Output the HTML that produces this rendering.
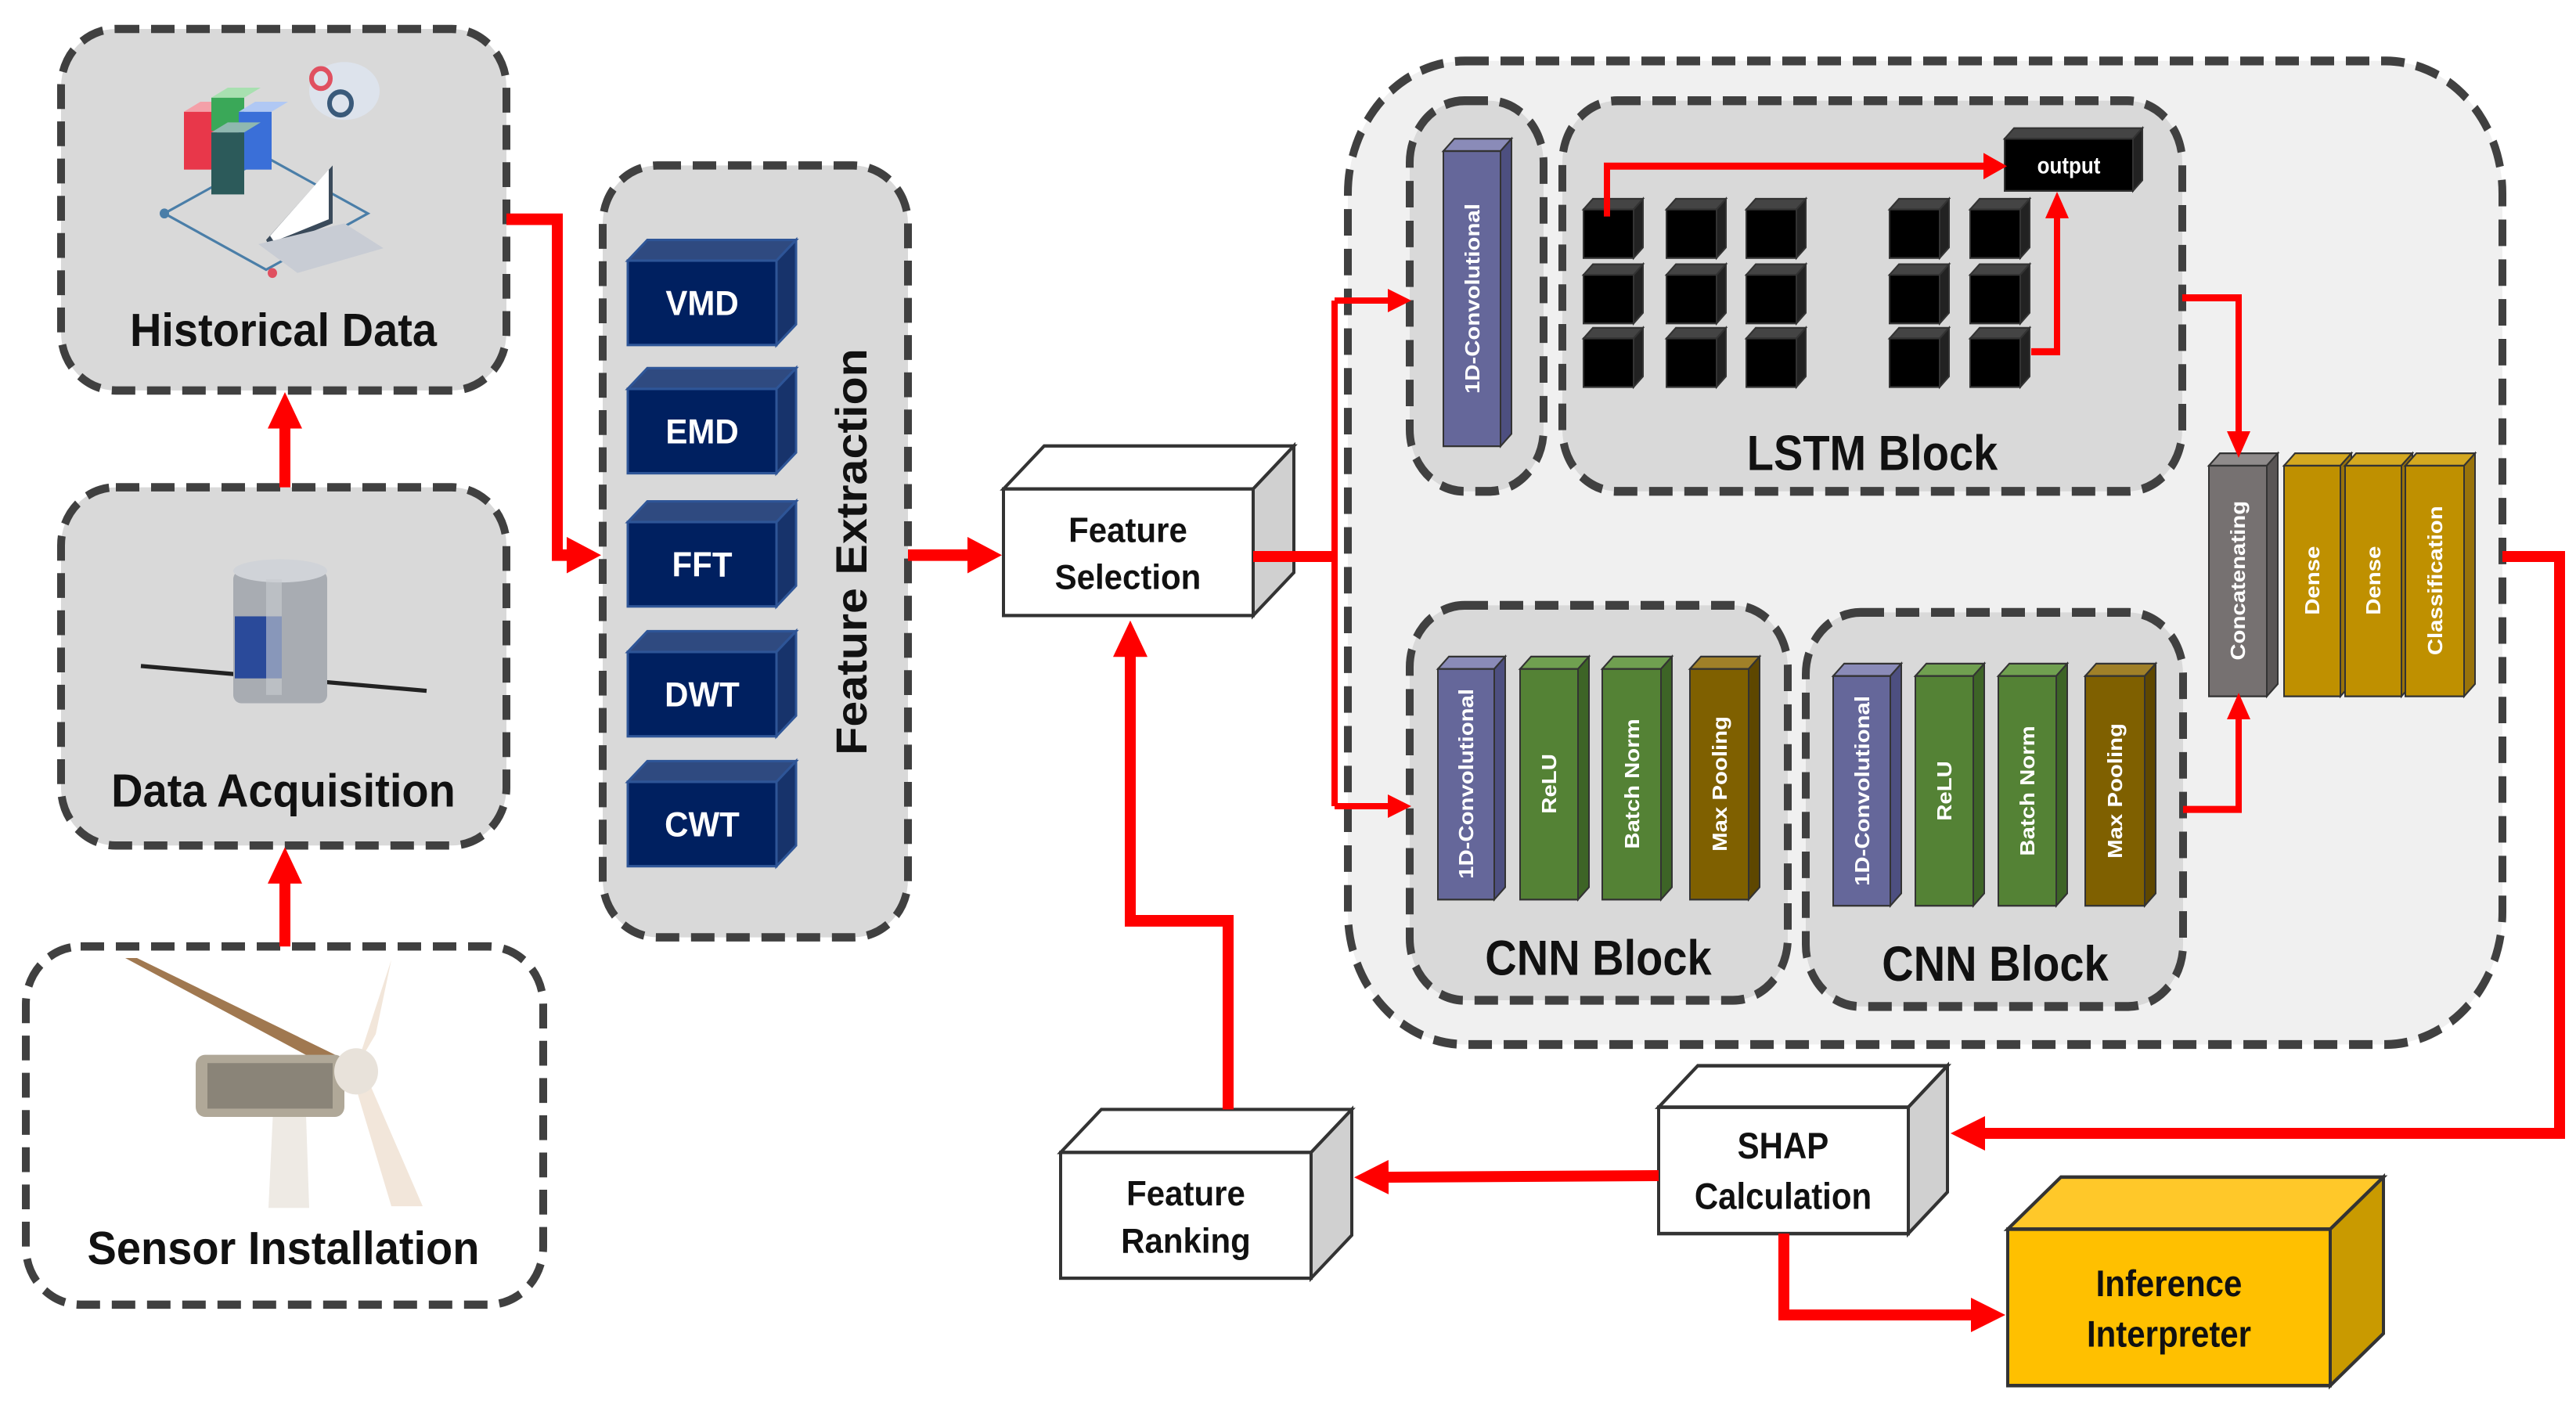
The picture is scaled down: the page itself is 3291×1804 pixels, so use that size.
<!DOCTYPE html>
<html><head><meta charset="utf-8"><style>
html,body{margin:0;padding:0;background:#fff;}
svg{display:block;}
text{font-family:"Liberation Sans",sans-serif;font-weight:bold;}
</style></head><body>
<svg width="3291" height="1804" viewBox="0 0 3291 1804" xmlns="http://www.w3.org/2000/svg">
<defs>
<marker id="a" markerWidth="44" markerHeight="44" refX="2" refY="22" orient="auto" markerUnits="userSpaceOnUse"><path d="M0,0 L44,22 L0,44z" fill="#ff0000"/></marker>
<marker id="s" markerWidth="30" markerHeight="30" refX="2" refY="15" orient="auto" markerUnits="userSpaceOnUse"><path d="M0,0 L30,15 L0,30z" fill="#ff0000"/></marker>
</defs>

<!-- LEFT GROUP -->
<g transform="scale(1,1.057)">
<g fill="none" stroke="#404040" stroke-width="10" stroke-dasharray="30 15">
<rect x="78" y="35" width="569" height="437" rx="70" fill="#d9d9d9"/>
<rect x="78" y="589" width="569" height="433" rx="70" fill="#d9d9d9"/>
<rect x="33" y="1144" width="661" height="433" rx="70" fill="#ffffff"/>
<rect x="770" y="200" width="390" height="933" rx="70" fill="#d9d9d9"/>
</g>
<g>
<path d="M210,258 L340,190 L470,258 L340,326z" fill="none" stroke="#4a7ea8" stroke-width="3"/>
<circle cx="210" cy="258" r="6" fill="#4a7ea8"/><circle cx="348" cy="330" r="6" fill="#e05060"/>
<rect x="235" y="135" width="42" height="70" fill="#e8374a"/><path d="M235,135 L256,123 L298,123 L277,135z" fill="#f4a0a8"/>
<rect x="270" y="118" width="42" height="40" fill="#3aa858"/><path d="M270,118 L291,106 L333,106 L312,118z" fill="#a8e0b0"/>
<rect x="305" y="135" width="42" height="70" fill="#3a6fd8"/><path d="M305,135 L326,123 L368,123 L347,135z" fill="#b0c8f4"/>
<rect x="270" y="160" width="42" height="75" fill="#2c5a5a"/><path d="M270,160 L291,148 L333,148 L312,160z" fill="#8fb8b0"/>
<path d="M340,290 L425,200 L425,270 L345,300z" fill="#3a4a5a"/>
<path d="M345,285 L420,205 L420,265 L350,292z" fill="#fff"/>
<path d="M330,295 L440,270 L490,300 L380,330z" fill="#c8ccd4"/>
<ellipse cx="440" cy="110" rx="45" ry="35" fill="#dde3ec"/>
<circle cx="410" cy="95" r="12" fill="none" stroke="#e05060" stroke-width="6"/>
<circle cx="435" cy="125" r="14" fill="none" stroke="#3a5a7a" stroke-width="6"/>
</g>
<text x="362" y="418" font-size="56" text-anchor="middle" fill="#111">Historical Data</text>
<g>
<path d="M180,805 L545,835" stroke="#222" stroke-width="5"/>
<rect x="298" y="690" width="120" height="160" rx="10" fill="#a8acb2"/>
<ellipse cx="358" cy="690" rx="60" ry="14" fill="#d0d3d8"/>
<rect x="300" y="745" width="60" height="75" fill="#2a4a9a"/>
<rect x="340" y="700" width="20" height="140" fill="#c8cbd0" opacity="0.6"/>
</g>
<text x="362" y="975" font-size="56" text-anchor="middle" fill="#111">Data Acquisition</text>
<g>
<path d="M350,1320 L390,1320 L395,1460 L343,1460z" fill="#eeeae4"/>
<path d="M160,1158 L175,1158 L450,1285 L440,1300z" fill="#a07850"/>
<path d="M455,1290 L500,1160 L480,1250z" fill="#f2e6da"/>
<path d="M450,1300 L470,1305 L540,1458 L500,1458z" fill="#f2e6da"/>
<rect x="250" y="1275" width="190" height="75" rx="12" fill="#b0a898"/>
<rect x="265" y="1285" width="160" height="55" fill="#8a8478"/>
<circle cx="455" cy="1295" r="28" fill="#e8e2da"/>
</g>
<text x="362" y="1528" font-size="56" text-anchor="middle" fill="#111">Sensor Installation</text>

<g stroke="#2e5597" stroke-width="3">
<g><rect x="802" y="315" width="190" height="102" fill="#002060"/><path d="M802,315 L827,290 L1017,290 L992,315z" fill="#2f4a80"/><path d="M992,315 L1017,290 L1017,392 L992,417z" fill="#17336b"/></g>
<g><rect x="802" y="470" width="190" height="102" fill="#002060"/><path d="M802,470 L827,445 L1017,445 L992,470z" fill="#2f4a80"/><path d="M992,470 L1017,445 L1017,547 L992,572z" fill="#17336b"/></g>
<g><rect x="802" y="631" width="190" height="102" fill="#002060"/><path d="M802,631 L827,606 L1017,606 L992,631z" fill="#2f4a80"/><path d="M992,631 L1017,606 L1017,708 L992,733z" fill="#17336b"/></g>
<g><rect x="802" y="788" width="190" height="102" fill="#002060"/><path d="M802,788 L827,763 L1017,763 L992,788z" fill="#2f4a80"/><path d="M992,788 L1017,763 L1017,865 L992,890z" fill="#17336b"/></g>
<g><rect x="802" y="945" width="190" height="102" fill="#002060"/><path d="M802,945 L827,920 L1017,920 L992,945z" fill="#2f4a80"/><path d="M992,945 L1017,920 L1017,1022 L992,1047z" fill="#17336b"/></g>
</g>
<g font-size="42" fill="#fff" text-anchor="middle">
<text x="897" y="381">VMD</text><text x="897" y="536">EMD</text><text x="897" y="697">FFT</text><text x="897" y="854">DWT</text><text x="897" y="1011">CWT</text>
</g>
<text transform="translate(1107,667) rotate(-90)" font-size="56" text-anchor="middle" fill="#111">Feature Extraction</text>

<g stroke="#333" stroke-width="4">
<path d="M1282,591 L1334,539 L1653,539 L1601,591z" fill="#fff"/><path d="M1601,591 L1653,539 L1653,692 L1601,744z" fill="#d0d0d0"/><rect x="1282" y="591" width="319" height="153" fill="#fff"/>
<path d="M1355,1393 L1407,1341 L1727,1341 L1675,1393z" fill="#fff"/><path d="M1675,1393 L1727,1341 L1727,1493 L1675,1545z" fill="#d0d0d0"/><rect x="1355" y="1393" width="320" height="152" fill="#fff"/>
</g>
<g font-size="42" fill="#111" text-anchor="middle">
<text x="1441" y="655">Feature</text><text x="1441" y="712">Selection</text>
<text x="1515" y="1457">Feature</text><text x="1515" y="1514">Ranking</text>
</g>
<g fill="none" stroke="#ff0000" stroke-width="14">
<path d="M364,589 L364,516" marker-end="url(#a)"/>
<path d="M364,1144 L364,1066" marker-end="url(#a)"/>
<path d="M647,265 L712,265 L712,671 L726,671" marker-end="url(#a)"/>
<path d="M1160,671 L1238,671" marker-end="url(#a)"/>
<path d="M1569,1341 L1569,1113 L1444,1113 L1444,792" marker-end="url(#a)"/>
</g>
</g>

<!-- RIGHT GROUP -->
<g transform="scale(1,1.129)">
<g fill="none" stroke="#404040" stroke-width="10" stroke-dasharray="30 15">
<rect x="1722" y="69" width="1475" height="1113" rx="150" fill="#f0f0f0"/>
<rect x="1801" y="114" width="171" height="442" rx="70" fill="#d9d9d9"/>
<rect x="1996" y="114" width="792" height="442" rx="70" fill="#d9d9d9"/>
<rect x="1801" y="685" width="483" height="447" rx="70" fill="#d9d9d9"/>
<rect x="2307" y="693" width="482" height="446" rx="70" fill="#d9d9d9"/>
</g>
<g stroke="#333" stroke-width="4">
<path d="M2119,1253 L2169,1206 L2488,1206 L2438,1253z" fill="#fff"/><path d="M2438,1253 L2488,1206 L2488,1349 L2438,1396z" fill="#d0d0d0"/><rect x="2119" y="1253" width="319" height="143" fill="#fff"/>
<path d="M2565,1391 L2633,1332 L3045,1332 L2977,1391z" fill="#ffc829"/><path d="M2977,1391 L3045,1332 L3045,1509 L2977,1568z" fill="#c99a00"/><rect x="2565" y="1391" width="412" height="177" fill="#ffc000"/>
</g>
<g font-size="42" fill="#111" text-anchor="middle">
<text x="2278" y="1311">SHAP</text><text x="2278" y="1368">Calculation</text>
<text x="2771" y="1467">Inference</text><text x="2771" y="1524">Interpreter</text>
</g>
<g stroke="#333" stroke-width="2">
<path d="M1844,171 L1858,157 L1931,157 L1917,171z" fill="#8a8bb8"/><path d="M1917,171 L1931,157 L1931,491 L1917,505z" fill="#4d4f80"/><rect x="1844" y="171" width="73" height="334" fill="#65679a"/>
<path d="M1837,757 L1851,743 L1923,743 L1909,757z" fill="#8a8bb8"/><path d="M1909,757 L1923,743 L1923,1004 L1909,1018z" fill="#4d4f80"/><rect x="1837" y="757" width="72" height="261" fill="#65679a"/>
<path d="M1942,757 L1956,743 L2030,743 L2016,757z" fill="#70a050"/><path d="M2016,757 L2030,743 L2030,1004 L2016,1018z" fill="#3d6426"/><rect x="1942" y="757" width="74" height="261" fill="#548235"/>
<path d="M2047,757 L2061,743 L2136,743 L2122,757z" fill="#70a050"/><path d="M2122,757 L2136,743 L2136,1004 L2122,1018z" fill="#3d6426"/><rect x="2047" y="757" width="75" height="261" fill="#548235"/>
<path d="M2159,757 L2173,743 L2248,743 L2234,757z" fill="#a08028"/><path d="M2234,757 L2248,743 L2248,1004 L2234,1018z" fill="#5e4700"/><rect x="2159" y="757" width="75" height="261" fill="#7f6000"/>
<path d="M2342,765 L2356,751 L2429,751 L2415,765z" fill="#8a8bb8"/><path d="M2415,765 L2429,751 L2429,1011 L2415,1025z" fill="#4d4f80"/><rect x="2342" y="765" width="73" height="260" fill="#65679a"/>
<path d="M2447,765 L2461,751 L2535,751 L2521,765z" fill="#70a050"/><path d="M2521,765 L2535,751 L2535,1011 L2521,1025z" fill="#3d6426"/><rect x="2447" y="765" width="74" height="260" fill="#548235"/>
<path d="M2553,765 L2567,751 L2641,751 L2627,765z" fill="#70a050"/><path d="M2627,765 L2641,751 L2641,1011 L2627,1025z" fill="#3d6426"/><rect x="2553" y="765" width="74" height="260" fill="#548235"/>
<path d="M2664,765 L2678,751 L2754,751 L2740,765z" fill="#a08028"/><path d="M2740,765 L2754,751 L2754,1011 L2740,1025z" fill="#5e4700"/><rect x="2664" y="765" width="76" height="260" fill="#7f6000"/>
<path d="M2822,527 L2836,513 L2910,513 L2896,527z" fill="#8f8b8b"/><path d="M2896,527 L2910,513 L2910,774 L2896,788z" fill="#595555"/><rect x="2822" y="527" width="74" height="261" fill="#767171"/>
<path d="M2918,527 L2932,513 L3004,513 L2990,527z" fill="#d4a820"/><path d="M2990,527 L3004,513 L3004,774 L2990,788z" fill="#99730a"/><rect x="2918" y="527" width="72" height="261" fill="#bf9000"/>
<path d="M2996,527 L3010,513 L3082,513 L3068,527z" fill="#d4a820"/><path d="M3068,527 L3082,513 L3082,774 L3068,788z" fill="#99730a"/><rect x="2996" y="527" width="72" height="261" fill="#bf9000"/>
<path d="M3073,527 L3087,513 L3162,513 L3148,527z" fill="#d4a820"/><path d="M3148,527 L3162,513 L3162,774 L3148,788z" fill="#99730a"/><rect x="3073" y="527" width="75" height="261" fill="#bf9000"/>
</g>
<g font-size="26" fill="#fff" text-anchor="middle">
<text transform="translate(1890,338) rotate(-90)">1D-Convolutional</text>
<text transform="translate(1882,887) rotate(-90)">1D-Convolutional</text>
<text transform="translate(1988,887) rotate(-90)">ReLU</text>
<text transform="translate(2094,887) rotate(-90)">Batch Norm</text>
<text transform="translate(2206,887) rotate(-90)">Max Pooling</text>
<text transform="translate(2388,895) rotate(-90)">1D-Convolutional</text>
<text transform="translate(2493,895) rotate(-90)">ReLU</text>
<text transform="translate(2599,895) rotate(-90)">Batch Norm</text>
<text transform="translate(2711,895) rotate(-90)">Max Pooling</text>
<text transform="translate(2868,657) rotate(-90)">Concatenating</text>
<text transform="translate(2963,657) rotate(-90)">Dense</text>
<text transform="translate(3041,657) rotate(-90)">Dense</text>
<text transform="translate(3120,657) rotate(-90)">Classification</text>
</g>
<g fill="#000" stroke="#333" stroke-width="2">
<g id="c1"><path d="M2023,237 L2035,225 L2099,225 L2087,237z" fill="#444"/><path d="M2087,237 L2099,225 L2099,280 L2087,292z" fill="#222"/><rect x="2023" y="237" width="64" height="55"/></g>
<use href="#c1" x="106"/><use href="#c1" x="208"/><use href="#c1" x="391"/><use href="#c1" x="494"/>
<use href="#c1" y="74"/><use href="#c1" x="106" y="74"/><use href="#c1" x="208" y="74"/><use href="#c1" x="391" y="74"/><use href="#c1" x="494" y="74"/>
<use href="#c1" y="146"/><use href="#c1" x="106" y="146"/><use href="#c1" x="208" y="146"/><use href="#c1" x="391" y="146"/><use href="#c1" x="494" y="146"/>
<path d="M2561,157 L2573,145 L2737,145 L2725,157z" fill="#444"/><path d="M2725,157 L2737,145 L2737,204 L2725,216z" fill="#222"/><rect x="2561" y="157" width="164" height="59"/>
</g>
<text x="2643" y="196" font-size="26" fill="#fff" text-anchor="middle">output</text>
<text x="2392" y="532" font-size="56" fill="#111" text-anchor="middle">LSTM Block</text>
<text x="2042" y="1103" font-size="56" fill="#111" text-anchor="middle">CNN Block</text>
<text x="2549" y="1110" font-size="56" fill="#111" text-anchor="middle">CNN Block</text>
<g fill="none" stroke="#ff0000" stroke-width="8">
<path d="M2053,245 L2053,188 L2536,188" marker-end="url(#s)"/>
<path d="M2595,398 L2628,398 L2628,245" marker-end="url(#s)"/>
<path d="M2788,337 L2860,337 L2860,490" marker-end="url(#s)"/>
<path d="M2789,916 L2860,916 L2860,812" marker-end="url(#s)"/>
</g>
</g>

<!-- CROSSING ARROWS (unscaled) -->
<g fill="none" stroke="#ff0000" stroke-width="14">
<path d="M1601,711 L1705,711"/>
<path d="M1705,384 L1705,1030" stroke-width="8"/>
<path d="M1705,384 L1775,384" stroke-width="8" marker-end="url(#s)"/>
<path d="M1705,1030 L1775,1030" stroke-width="8" marker-end="url(#s)"/>
<path d="M3197,711 L3270,711 L3270,1448 L2534,1448" marker-end="url(#a)"/>
<path d="M2119,1502 L1772,1504" marker-end="url(#a)"/>
<path d="M2279,1576 L2279,1680 L2520,1680" marker-end="url(#a)"/>
</g>
</svg>
</body></html>
